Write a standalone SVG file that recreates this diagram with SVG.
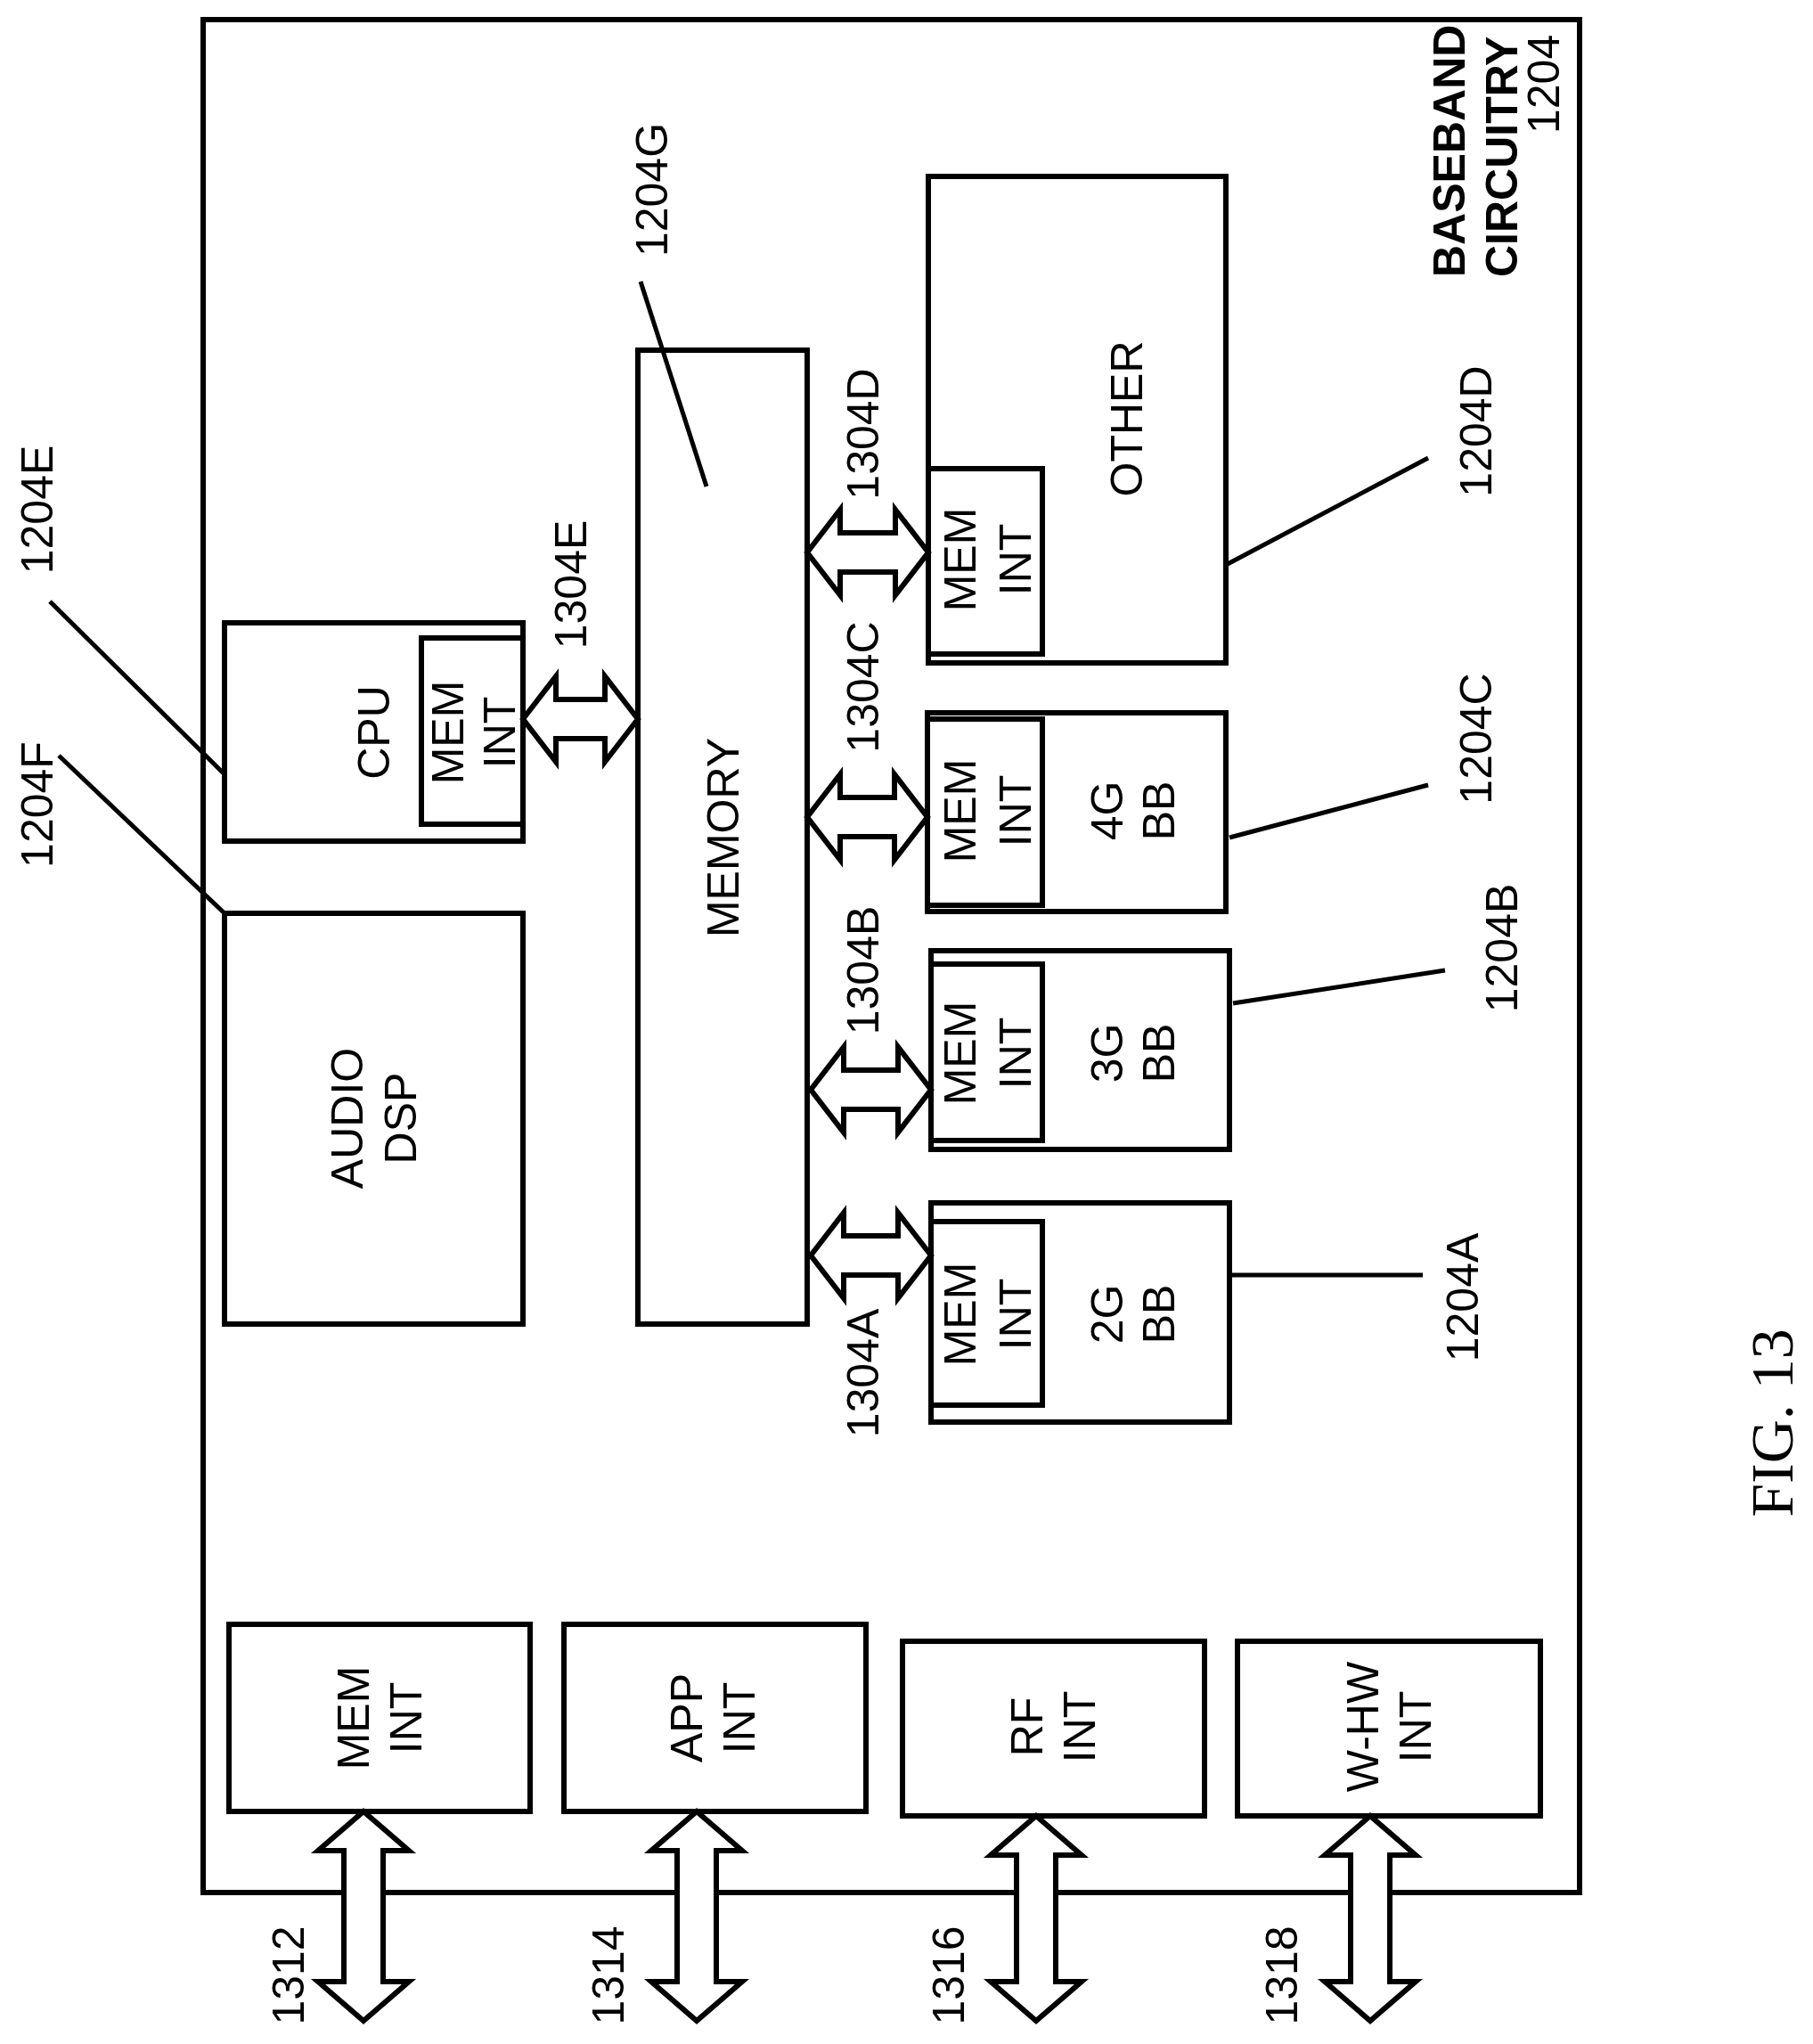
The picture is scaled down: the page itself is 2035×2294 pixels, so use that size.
<svg xmlns="http://www.w3.org/2000/svg" width="2035" height="2294" viewBox="0 0 2035 2294">
<style>
rect,polygon{fill:#fff;stroke:#000;stroke-width:6}
line{stroke:#000;stroke-width:5}
text{font-family:"Liberation Sans",Arial,sans-serif;font-size:50px;text-anchor:middle}
.b{font-weight:bold;text-anchor:start}
.s{text-anchor:start}
.fig{font-family:"Liberation Serif","Times New Roman",serif;font-size:68px}
</style>
<rect width="2035" height="2294" style="stroke:none"/>
<g id="baseband"><rect x="228" y="22" width="1545" height="2102"/>
<text class="b" transform="translate(1644,311) rotate(-90)">BASEBAND</text>
<text class="b" transform="translate(1703,311) rotate(-90)">CIRCUITRY</text>
<text class="s" transform="translate(1750,150) rotate(-90)">1204</text></g>
<g id="cpu"><rect x="252" y="699" width="335" height="245"/><rect x="473" y="716" width="114" height="209"/>
<text transform="translate(437,822) rotate(-90)">CPU</text>
<text transform="translate(520,822) rotate(-90)">MEM</text>
<text transform="translate(578,822) rotate(-90)">INT</text></g>
<g id="audio"><rect x="252" y="1025" width="335" height="461"/>
<text transform="translate(407,1255) rotate(-90)">AUDIO</text>
<text transform="translate(467,1255) rotate(-90)">DSP</text></g>
<g id="memory"><rect x="716" y="393" width="190" height="1093"/>
<text transform="translate(829,940) rotate(-90)">MEMORY</text></g>
<g id="other"><rect x="1042" y="198" width="334" height="546"/><rect x="1042" y="526" width="128" height="208"/>
<text transform="translate(1282,470) rotate(-90)">OTHER</text>
<text transform="translate(1095,628) rotate(-90)">MEM</text>
<text transform="translate(1157,628) rotate(-90)">INT</text></g>
<g id="bb4g"><rect x="1041" y="800" width="335" height="223"/><rect x="1041" y="807" width="129" height="209"/>
<text transform="translate(1095,910) rotate(-90)">MEM</text>
<text transform="translate(1157,910) rotate(-90)">INT</text>
<text transform="translate(1260,910) rotate(-90)">4G</text>
<text transform="translate(1318,910) rotate(-90)">BB</text></g>
<g id="bb3g"><rect x="1045" y="1067" width="335" height="223"/><rect x="1045" y="1082" width="125" height="198"/>
<text transform="translate(1095,1182) rotate(-90)">MEM</text>
<text transform="translate(1157,1182) rotate(-90)">INT</text>
<text transform="translate(1260,1182) rotate(-90)">3G</text>
<text transform="translate(1318,1182) rotate(-90)">BB</text></g>
<g id="bb2g"><rect x="1045" y="1350" width="335" height="246"/><rect x="1045" y="1371" width="125" height="206"/>
<text transform="translate(1095,1475) rotate(-90)">MEM</text>
<text transform="translate(1157,1475) rotate(-90)">INT</text>
<text transform="translate(1260,1475) rotate(-90)">2G</text>
<text transform="translate(1318,1475) rotate(-90)">BB</text></g>
<g id="memint"><rect x="257" y="1823" width="338" height="210"/>
<text transform="translate(414,1928) rotate(-90)">MEM</text>
<text transform="translate(473,1928) rotate(-90)">INT</text></g>
<g id="appint"><rect x="633" y="1823" width="339" height="210"/>
<text transform="translate(788,1928) rotate(-90)">APP</text>
<text transform="translate(847,1928) rotate(-90)">INT</text></g>
<g id="rfint"><rect x="1013" y="1842" width="339" height="196"/>
<text transform="translate(1170,1938) rotate(-90)">RF</text>
<text transform="translate(1229,1938) rotate(-90)">INT</text></g>
<g id="whwint"><rect x="1389" y="1842" width="340" height="196"/>
<text transform="translate(1547,1938) rotate(-90)">W-HW</text>
<text transform="translate(1606,1938) rotate(-90)">INT</text></g>
<g id="connectors">
<polygon points="587,807 624,759 624,785 679,785 679,759 716,807 679,855 679,829 624,829 624,855"/>
<polygon points="906,620 943,572 943,598 1005,598 1005,572 1042,620 1005,668 1005,642 943,642 943,668"/>
<polygon points="906,917 943,869 943,895 1004,895 1004,869 1041,917 1004,965 1004,939 943,939 943,965"/>
<polygon points="910,1223 947,1175 947,1201 1008,1201 1008,1175 1045,1223 1008,1271 1008,1245 947,1245 947,1271"/>
<polygon points="910,1409 947,1361 947,1387 1008,1387 1008,1361 1045,1409 1008,1457 1008,1431 947,1431 947,1457"/>
<polygon points="408,2033 459,2077 430,2077 430,2224 459,2224 408,2268 357,2224 386,2224 386,2077 357,2077"/>
<polygon points="782,2033 833,2077 804,2077 804,2224 833,2224 782,2268 731,2224 760,2224 760,2077 731,2077"/>
<polygon points="1163,2038 1214,2082 1185,2082 1185,2224 1214,2224 1163,2268 1112,2224 1141,2224 1141,2082 1112,2082"/>
<polygon points="1538,2038 1589,2082 1560,2082 1560,2224 1589,2224 1538,2268 1487,2224 1516,2224 1516,2082 1487,2082"/>
<line x1="719" y1="316" x2="793" y2="546"/>
<line x1="56" y1="675" x2="252" y2="869"/>
<line x1="66" y1="848" x2="252" y2="1025"/>
<line x1="1376" y1="634" x2="1603" y2="514"/>
<line x1="1380" y1="940" x2="1603" y2="881"/>
<line x1="1384" y1="1126" x2="1622" y2="1089"/>
<line x1="1380" y1="1431" x2="1597" y2="1431"/>
</g>
<g id="labels">
<text transform="translate(658,656) rotate(-90)">1304E</text>
<text transform="translate(986,487) rotate(-90)">1304D</text>
<text transform="translate(986,771) rotate(-90)">1304C</text>
<text transform="translate(986,1089) rotate(-90)">1304B</text>
<text transform="translate(986,1541) rotate(-90)">1304A</text>
<text transform="translate(749,213) rotate(-90)">1204G</text>
<text transform="translate(59,572) rotate(-90)">1204E</text>
<text transform="translate(59,903) rotate(-90)">1204F</text>
<text transform="translate(1674,484) rotate(-90)">1204D</text>
<text transform="translate(1674,829) rotate(-90)">1204C</text>
<text transform="translate(1703,1064) rotate(-90)">1204B</text>
<text transform="translate(1659,1456) rotate(-90)">1204A</text>
<text transform="translate(341,2217) rotate(-90)">1312</text>
<text transform="translate(700,2217) rotate(-90)">1314</text>
<text transform="translate(1082,2217) rotate(-90)">1316</text>
<text transform="translate(1456,2217) rotate(-90)">1318</text>
<text class="fig" transform="translate(2012,1597) rotate(-90)">FIG. 13</text>
</g>
</svg>
